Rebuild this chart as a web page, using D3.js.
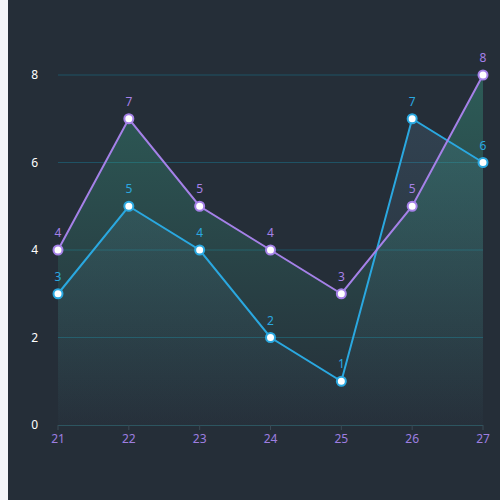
<!DOCTYPE html>
<html>
<head>
<meta charset="utf-8">
<script src="https://cdn.jsdelivr.net/npm/d3@7"></script>
<style>
  html, body { margin: 0; padding: 0; background: #f3f4f8; }
  svg { display: block; }
</style>
</head>
<body>
<script>
let width = 500, height = 500;

// chart data
const days = [21, 22, 23, 24, 25, 26, 27];
const purpleValues = [4, 7, 5, 4, 3, 5, 8];
const blueValues = [3, 5, 4, 2, 1, 7, 6];
const yTicks = [0, 2, 4, 6, 8];

const purple = "#a581e8", blue = "#2aa8e0";

const svg = d3.select("body").append("svg")
    .attr("width", width)
    .attr("height", height);

svg.append("rect").attr("x", 8).attr("y", 0)
    .attr("width", width - 8).attr("height", height)
    .attr("fill", "#252e38");

const x = d3.scalePoint().domain(days).range([58, 483]);
const y = d3.scaleLinear().domain([0, 8]).range([425, 75]);

const defs = svg.append("defs");
function grad(id, color, top, bottom) {
    const g = defs.append("linearGradient").attr("id", id)
        .attr("gradientUnits", "userSpaceOnUse")
        .attr("x1", 0).attr("x2", 0).attr("y1", y(8)).attr("y2", y(0));
    g.append("stop").attr("offset", 0).attr("stop-color", color).attr("stop-opacity", top);
    g.append("stop").attr("offset", 1).attr("stop-color", color).attr("stop-opacity", bottom);
}
grad("gPurple", "#3aa68a", 0.38, 0.0);
grad("gBlue", "#6a9cc0", 0.2, 0.02);

// grid lines
svg.append("g").selectAll("line")
    .data(yTicks.filter(d => d > 0))
    .enter().append("line")
    .attr("x1", x(21)).attr("x2", x(27))
    .attr("y1", d => y(d)).attr("y2", d => y(d))
    .attr("stroke", "#1f5264").attr("stroke-width", 1);

// y labels
svg.append("g").selectAll("text")
    .data(yTicks)
    .enter().append("text")
    .attr("x", 38).attr("y", d => y(d) + 4)
    .attr("text-anchor", "end")
    .attr("font-family", "Noto Sans, sans-serif").attr("font-size", 12)
    .attr("fill", "#ffffff")
    .text(d => d);

const area = d3.area().x((d, i) => x(days[i])).y0(y(0)).y1(d => y(d));
const line = d3.line().x((d, i) => x(days[i])).y(d => y(d));

svg.append("path").datum(blueValues).attr("d", area).attr("fill", "url(#gBlue)");
svg.append("path").datum(purpleValues).attr("d", area).attr("fill", "url(#gPurple)");

// x axis
svg.append("line").attr("x1", x(21)).attr("x2", x(27))
    .attr("y1", y(0) + 0.5).attr("y2", y(0) + 0.5)
    .attr("stroke", "#2d5560");
svg.append("g").selectAll("line")
    .data(days).enter().append("line")
    .attr("x1", d => x(d)).attr("x2", d => x(d))
    .attr("y1", y(0)).attr("y2", y(0) + 5)
    .attr("stroke", "#3a4a55");
svg.append("g").selectAll("text")
    .data(days).enter().append("text")
    .attr("x", d => x(d)).attr("y", 443)
    .attr("text-anchor", "middle")
    .attr("font-family", "Noto Sans, sans-serif").attr("font-size", 12)
    .attr("fill", "#9e7ee0")
    .text(d => d);

svg.append("path").datum(blueValues).attr("d", line)
    .attr("fill", "none").attr("stroke", blue).attr("stroke-width", 2);
svg.append("path").datum(purpleValues).attr("d", line)
    .attr("fill", "none").attr("stroke", purple).attr("stroke-width", 2);

function points(vals, color) {
    const g = svg.append("g");
    g.selectAll("circle").data(vals).enter().append("circle")
        .attr("cx", (d, i) => x(days[i])).attr("cy", d => y(d))
        .attr("r", 4.5).attr("fill", "#fff")
        .attr("stroke", color).attr("stroke-width", 2);
    g.selectAll("text").data(vals).enter().append("text")
        .attr("x", (d, i) => x(days[i])).attr("y", d => y(d) - 13)
        .attr("text-anchor", "middle")
        .attr("font-family", "Noto Sans, sans-serif").attr("font-size", 12)
        .attr("fill", color)
        .text(d => d);
}
points(blueValues, blue);
points(purpleValues, purple);
</script>
</body>
</html>
